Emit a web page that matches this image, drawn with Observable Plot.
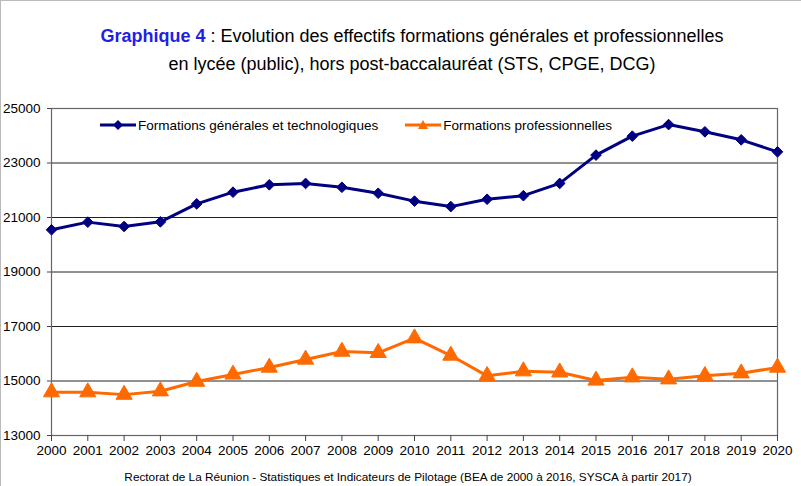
<!DOCTYPE html>
<html>
<head>
<meta charset="utf-8">
<script src="https://cdn.jsdelivr.net/npm/d3@7"></script>
<script src="https://cdn.jsdelivr.net/npm/@observablehq/plot@0.6"></script>
<style>
  html, body { margin: 0; padding: 0; background: #fff; }
  #wrap { position: relative; width: 801px; height: 486px; overflow: hidden; font-family: "Liberation Sans Narrow", "Arial Narrow", "Liberation Sans", sans-serif; }
  #wrap svg.plot { position: absolute; left: 0; top: 0; }
  #border { position: absolute; left: 0; top: 0; width: 801px; height: 486px; border-left: 1px solid #bbb; border-top: 1px solid #bbb; box-sizing: border-box; pointer-events: none; }
  #title { position: absolute; left: 0; top: 22px; width: 824px; text-align: center; font-size: 18px; line-height: 28px; color: #000; }
  #title b { color: #1f1fe6; }
  #caption { position: absolute; left: 0; top: 470px; width: 816px; text-align: center; font-size: 11.8px; color: #000; }
  #legend { position: absolute; left: 100px; top: 117px; font-size: 13.5px; display: flex; align-items: center; }
  #legend .item { display: flex; align-items: center; }
  #legend svg { display: block; }
</style>
</head>
<body>
<div id="wrap">
  <div id="border"></div>
  <div id="title"><b>Graphique 4</b> : Evolution des effectifs formations générales et professionnelles<br>en lycée (public), hors post-baccalauréat (STS, CPGE, DCG)</div>
  <div id="legend"></div>
  <div id="caption">Rectorat de La Réunion - Statistiques et Indicateurs de Pilotage (BEA de 2000 à 2016, SYSCA à partir 2017)</div>
</div>
<script>
const years = [2000,2001,2002,2003,2004,2005,2006,2007,2008,2009,2010,2011,2012,2013,2014,2015,2016,2017,2018,2019,2020];
const generales = [20550,20830,20670,20840,21500,21930,22200,22250,22110,21890,21600,21400,21670,21800,22250,23290,23985,24410,24145,23850,23410];
const professionnelles = [14590,14590,14500,14625,14980,15240,15495,15790,16080,16035,16570,15935,15190,15360,15320,15020,15140,15065,15190,15285,15495];
const seriesNames = ["Formations générales et technologiques", "Formations professionnelles"];
const seriesColors = ["#000080", "#ff6a00"];
const yTicks = [13000,15000,17000,19000,21000,23000,25000];

const data = [];
years.forEach((y, i) => {
  data.push({year: y, value: generales[i], serie: seriesNames[0]});
  data.push({year: y, value: professionnelles[i], serie: seriesNames[1]});
});
const gen = data.filter(d => d.serie === seriesNames[0]);
const pro = data.filter(d => d.serie === seriesNames[1]);

const chart = Plot.plot({
  width: 801,
  height: 486,
  marginTop: 108,
  marginLeft: 51,
  marginRight: 24,
  marginBottom: 51,
  style: {fontFamily: '"Liberation Sans Narrow", "Arial Narrow", "Liberation Sans", sans-serif', fontSize: "13px", color: "#000", background: "transparent"},
  x: {type: "linear", domain: [2000, 2020], ticks: years, tickFormat: d => String(d), tickSize: 6, tickPadding: 5, label: null},
  y: {domain: [13000, 25000], ticks: yTicks, tickFormat: d => String(d), tickSize: 4, tickPadding: 7, label: null},
  marks: [
    Plot.gridY(yTicks, {stroke: "#222", strokeOpacity: 1, strokeWidth: 1}),
    Plot.frame({stroke: "#666", strokeWidth: 1.2}),
    Plot.axisX({ticks: years, tickFormat: d => String(d), tickSize: 6, tickPadding: 4, stroke: "#444", fontSize: 13.5}),
    Plot.axisY({ticks: yTicks, tickFormat: d => String(d), tickSize: 4, tickPadding: 7, stroke: "#444", fontSize: 13.5}),
    Plot.line(gen, {x: "year", y: "value", stroke: seriesColors[0], strokeWidth: 3}),
    Plot.dot(gen, {x: "year", y: "value", symbol: "diamond2", fill: seriesColors[0], stroke: seriesColors[0], strokeWidth: 1, r: 4.8}),
    Plot.line(pro, {x: "year", y: "value", stroke: seriesColors[1], strokeWidth: 3}),
    Plot.dot(pro, {x: "year", y: "value", symbol: "triangle", fill: seriesColors[1], stroke: seriesColors[1], strokeWidth: 1, r: 6})
  ]
});
chart.classList.add("plot");
document.getElementById("wrap").insertBefore(chart, document.getElementById("border"));

// legend
const legend = document.getElementById("legend");
seriesNames.forEach((name, i) => {
  const item = document.createElement("div");
  item.className = "item";
  item.style.marginRight = i === 0 ? "27px" : "0";
  const s = d3.create("svg").attr("width", 38).attr("height", 16);
  s.append("line").attr("x1", 0).attr("x2", 36).attr("y1", 8).attr("y2", 8).attr("stroke", seriesColors[i]).attr("stroke-width", 3);
  const path = i === 0 ? "M18,3L23,8L18,13L13,8Z" : "M18,3L23,12L13,12Z";
  s.append("path").attr("d", path).attr("fill", seriesColors[i]);
  item.appendChild(s.node());
  const t = document.createElement("span");
  t.textContent = name;
  item.appendChild(t);
  legend.appendChild(item);
});
</script>
</body>
</html>
